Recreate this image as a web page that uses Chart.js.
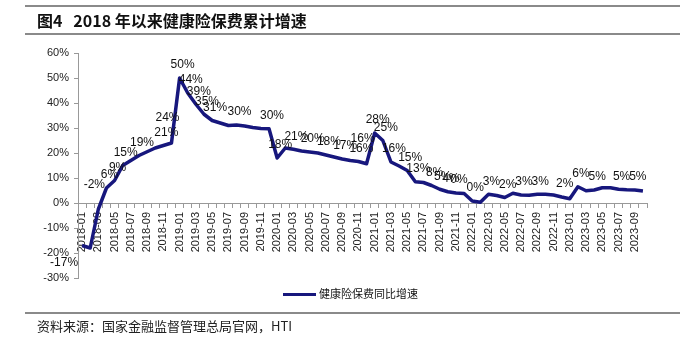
<!DOCTYPE html>
<html>
<head>
<meta charset="utf-8">
<script src="https://cdn.jsdelivr.net/npm/chart.js@4/dist/chart.umd.min.js"></script>
<style>
  html, body { margin: 0; padding: 0; background: #fff; }
  #wrap { position: relative; width: 700px; height: 341px; overflow: hidden; }
  #chart { position: absolute; left: 0; top: 0; }
  .rule { position: absolute; left: 25px; width: 655px; height: 2px; background: #8a8a8a; }
  #title { position: absolute; left: 37px; top: 9px; font: bold 16px "Noto Sans CJK SC", sans-serif; line-height: 22px; color: #111; white-space: pre; }
  #source { position: absolute; left: 37px; top: 317px; font: 13px "Noto Sans CJK SC", sans-serif; line-height: 18px; color: #222; white-space: pre; }
  #legend { position: absolute; left: 283px; top: 285px; font: 11px "Noto Sans CJK SC", sans-serif; line-height: 16px; color: #111; white-space: pre; }
  #legend .swatch { display: inline-block; width: 33px; height: 3px; vertical-align: middle; margin-right: 3px; position: relative; top: -1px; }
</style>
</head>
<body>
<div id="wrap">
  <canvas id="chart" width="700" height="341"></canvas>
  <div class="rule" style="top:5px"></div>
  <div id="title">图4   2018 年以来健康险保费累计增速</div>
  <div class="rule" style="top:33px"></div>
  <div id="legend"></div>
  <div class="rule" style="top:312px"></div>
  <div id="source">资料来源：国家金融监督管理总局官网，HTI</div>
</div>
<script>
// ---------- DATA ----------
const months = [
  "2018-01","2018-02","2018-03","2018-04","2018-05","2018-06","2018-07","2018-08","2018-09","2018-10","2018-11","2018-12",
  "2019-01","2019-02","2019-03","2019-04","2019-05","2019-06","2019-07","2019-08","2019-09","2019-10","2019-11","2019-12",
  "2020-01","2020-02","2020-03","2020-04","2020-05","2020-06","2020-07","2020-08","2020-09","2020-10","2020-11","2020-12",
  "2021-01","2021-02","2021-03","2021-04","2021-05","2021-06","2021-07","2021-08","2021-09","2021-10","2021-11","2021-12",
  "2022-01","2022-02","2022-03","2022-04","2022-05","2022-06","2022-07","2022-08","2022-09","2022-10","2022-11","2022-12",
  "2023-01","2023-02","2023-03","2023-04","2023-05","2023-06","2023-07","2023-08","2023-09","2023-10"
];

// 健康险保费同比增速 (%)
const growth = [
  -17, -18, -2.5, 6, 9, 15, 17, 19, 20.5, 22, 23, 24,
  50, 44, 39.5, 35.5, 33, 32, 31, 31.2, 30.8, 30.2, 29.8, 29.7,
  18, 22, 21.5, 20.8, 20.4, 20, 19.2, 18.4, 17.6, 17, 16.6, 15.7,
  28, 25, 16.4, 14.8, 13, 8.5, 8.2, 7, 5.5, 4.5, 4, 3.8,
  0.8, 0.3, 3.5, 3, 2.2, 3.9, 3.2, 3.1, 3.5, 3.5, 3.2, 2.4,
  1.7, 6.5, 4.9, 5.2, 6.1, 6.1, 5.5, 5.3, 5.2, 4.8
];

// data labels shown in the original (null = no label)
const pointLabels = [
  "-17%", null, "-2%", "6%", "9%", "15%", null, "19%", null, null, "21%", "24%",
  "50%", "44%", "39%", "35%", "31%", null, null, "30%", null, null, null, "30%",
  "18%", null, "21%", null, "20%", null, "18%", null, "17%", null, "16%", "16%",
  "28%", "25%", "16%", null, "15%", "13%", null, "8%", "5%", "4%", "0%", null,
  "0%", null, "3%", null, "2%", null, "3%", null, "3%", null, null, "2%",
  null, "6%", null, "5%", null, null, "5%", null, "5%", null
];

const yTicks = [-30, -20, -10, 0, 10, 20, 30, 40, 50, 60];

const seriesName = "健康险保费同比增速";
const lineColor = "#17177d";

// ---------- LABEL PLUGIN ----------
const valueLabels = {
  id: "valueLabels",
  afterDatasetsDraw(chart) {
    const meta = chart.getDatasetMeta(0);
    const ctx = chart.ctx;
    ctx.save();
    ctx.font = "12px 'Liberation Sans', Arial, sans-serif";
    ctx.fillStyle = "#111";
    ctx.textAlign = "center";
    ctx.textBaseline = "middle";
    meta.data.forEach((pt, i) => {
      const txt = pointLabels[i];
      if (!txt) return;
      if (growth[i] < -10) {
        // deep negative: label sits below left
        ctx.fillText(txt, pt.x - 18, pt.y + 17);
      } else if (growth[i + 1] - growth[i] > 8) {
        // right before a sharp jump: lift the label clear of the line
        ctx.fillText(txt, pt.x - 4, pt.y - 25);
      } else {
        ctx.fillText(txt, pt.x + 3, pt.y - 13);
      }
    });
    ctx.restore();
  }
};

new Chart(document.getElementById("chart"), {
  type: "line",
  data: {
    labels: months,
    datasets: [{
      label: seriesName,
      data: growth,
      borderColor: lineColor,
      backgroundColor: lineColor,
      borderWidth: 3.5,
      borderJoinStyle: "round",
      pointRadius: 0,
      tension: 0,
      fill: false
    }]
  },
  options: {
    responsive: false,
    animation: false,
    layout: { padding: { left: 30, right: 53, top: 53, bottom: 63 } },
    plugins: {
      tooltip: { enabled: false },
      legend: { display: false }
    },
    scales: {
      x: {
        position: { y: 0 },
        offset: true,
        grid: { drawOnChartArea: false, drawTicks: true, tickLength: 4, offset: true, color: "#999" },
        border: { display: true, color: "#999", width: 1 },
        ticks: {
          autoSkip: false,
          minRotation: 90,
          maxRotation: 90,
          padding: 5,
          color: "#222",
          font: { family: "'Liberation Sans', Arial, sans-serif", size: 11 },
          callback: function (val, idx) {
            return idx % 2 === 0 ? this.getLabelForValue(val) : "";
          }
        }
      },
      y: {
        min: -30,
        max: 60,
        afterFit: s => { s.width = 48; },
        afterBuildTicks: s => { s.ticks = yTicks.map(v => ({ value: v })); },
        grid: { drawOnChartArea: false, drawTicks: true, tickLength: 4, color: "#999" },
        border: { display: true, color: "#999", width: 1 },
        ticks: {
          padding: 5,
          color: "#222",
          font: { family: "'Liberation Sans', Arial, sans-serif", size: 11 },
          callback: v => v + "%"
        }
      }
    }
  },
  plugins: [valueLabels]
});

// legend (built from the dataset)
const legendEl = document.getElementById("legend");
const sw = document.createElement("span");
sw.className = "swatch";
sw.style.background = lineColor;
legendEl.appendChild(sw);
legendEl.appendChild(document.createTextNode(seriesName));
</script>
</body>
</html>
